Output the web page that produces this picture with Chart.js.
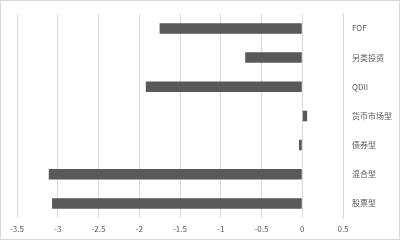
<!DOCTYPE html>
<html><head><meta charset="utf-8">
<script src="https://cdn.jsdelivr.net/npm/chart.js@4"></script>
<style>html,body{margin:0;padding:0;background:#fff}#c{display:block}</style>
</head><body>
<canvas id="c" width="400" height="240"></canvas>
<script>
const categories = ['FOF','另类投资','QDII','货币市场型','债券型','混合型','股票型'];
const values = [-1.75, -0.70, -1.92, 0.06, -0.04, -3.11, -3.07];
const xMin = -3.5, xMax = 0.5, xStep = 0.5;

const frame = {
  id: 'frame',
  beforeDraw(chart) {
    const ctx = chart.ctx;
    ctx.save();
    ctx.fillStyle = '#fff';
    ctx.fillRect(0, 0, chart.width, chart.height);
    ctx.strokeStyle = '#d9d9d9';
    ctx.lineWidth = 1;
    ctx.strokeRect(0.5, 0.5, chart.width - 1, chart.height - 1);
    ctx.restore();
  }
};

new Chart(document.getElementById('c'), {
  type: 'bar',
  data: {
    labels: categories,
    datasets: [{
      data: values,
      backgroundColor: '#595959',
      borderColor: '#6a6a6a',
      borderWidth: 0,
      categoryPercentage: 0.36,
      barPercentage: 1
    }]
  },
  options: {
    indexAxis: 'y',
    responsive: false,
    animation: false,
    layout: { padding: { left: 17, top: 11, right: 0, bottom: 0 } },
    plugins: { legend: { display: false }, tooltip: { enabled: false } },
    scales: {
      x: {
        min: xMin, max: xMax,
        ticks: {
          stepSize: xStep, color: '#595959', padding: 6,
          font: { family: 'Noto Sans CJK SC', size: 8 },
          callback: v => String(Math.round(v * 10) / 10)
        },
        grid: { color: '#d9d9d9', drawTicks: false },
        border: { display: false },
        afterFit: s => { s.height = 22; }
      },
      y: {
        position: 'right',
        ticks: {
          color: '#595959', padding: 9,
          font: { family: 'Noto Sans CJK SC', size: 8 }
        },
        grid: { display: false, drawTicks: false },
        border: { display: true, color: '#d9d9d9' },
        afterFit: s => { s.width = 57; }
      }
    }
  },
  plugins: [frame]
});
</script>
</body></html>
